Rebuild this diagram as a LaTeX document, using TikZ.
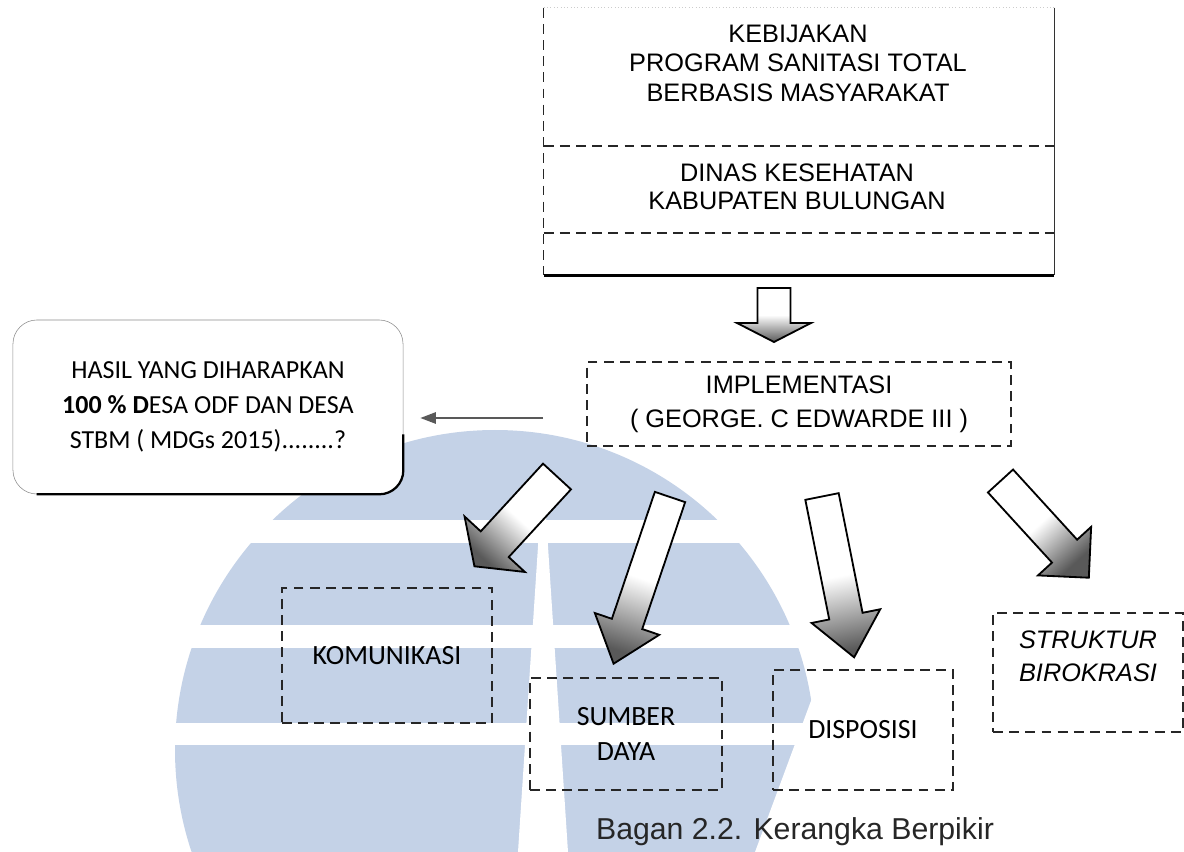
\documentclass[tikz,border=0pt]{standalone}
\usepackage{fontspec}
\setmainfont{Liberation Sans}
\newfontfamily\calibri{Carlito}
\usetikzlibrary{arrows.meta,positioning,calc}

\definecolor{logoblue}{RGB}{196,210,231}

\begin{document}
\begin{tikzpicture}[
x=0.025cm, y=-0.025cm,
dline/.style={
    draw=black!85,
    dash pattern=on 7pt off 4.5pt,
    line width=0.9pt
},
dbox/.style={
    dline,
    align=center
},
arialtext/.style={
    align=center,
    text=black,
    font=\fontsize{18}{#1}\selectfont
},
calibtext/.style={
    align=center,
    text=black,
    font=\calibri\fontsize{19.8}{#1}\selectfont
},
frame/.style={
    fill=white,
    inner sep=0pt,
    minimum width=12.75cm,
    minimum height=6.675cm
},
leftarrow/.style={
    -{Triangle[length=11pt,width=8pt]},
    draw=black!65,
    line width=1.3pt
},
pics/blockarrow/.style n args={5}{code={
    \shade[left color=white, right color=black!65, middle color=white,
        shading angle=#5, draw=black, line width=1.3pt, line join=miter]
        (0,-#2) -- (#1,-#2) -- (#1,-#3) -- ({#1+#4},0) -- (#1,#3) -- (#1,#2) -- (0,#2) -- cycle;
}}
]

\useasboundingbox (0,0) rectangle (1184,852);

\fill[logoblue] (495,750) circle[radius=320];
\fill[white] (0,520) rectangle (1184,543);
\fill[white] (0,625) rectangle (1184,648);
\fill[white] (0,723) rectangle (1184,745);
\fill[white] (543,470) -- (518,852) -- (568,852) -- cycle;
\fill[white] (815,690) -- (755,852) -- (1184,852) -- (1184,690) -- cycle;

\node[frame] (policy) at (799,141.5) {};

\node[arialtext=21] (kebijakan) at (798,63)
{KEBIJAKAN\\PROGRAM SANITASI TOTAL\\BERBASIS MASYARAKAT};

\node[arialtext=19.5] (dinas) at (797,187)
{DINAS KESEHATAN\\KABUPATEN BULUNGAN};

\node[dbox, arialtext=24, minimum width=10.6cm, minimum height=2.1cm] (impl) at (799,404)
{IMPLEMENTASI\\( GEORGE. C EDWARDE III )};

\node[draw=black!45, fill=white, rounded corners=0.6cm, minimum width=9.75cm, minimum height=4.35cm, calibtext=25, font=\calibri\fontsize{18.5}{25}\selectfont] (hasil) at (208,407)
{HASIL YANG DIHARAPKAN\\{\bfseries 100 \% D}ESA ODF DAN DESA\\STBM ( MDGs 2015)........?};

\node[dbox, calibtext=22, minimum width=5.25cm, minimum height=3.375cm] (kom) at (387,655.5)
{KOMUNIKASI};

\node[dbox, calibtext=25, minimum width=4.8cm, minimum height=2.8cm] (sumber) at (626,734)
{SUMBER\\DAYA};

\node[dbox, calibtext=22, minimum width=4.5cm, minimum height=3cm] (disp) at (863,730)
{DISPOSISI};

\node[dbox, arialtext=23, font=\fontsize{18}{23}\selectfont\itshape, minimum width=4.75cm, minimum height=2.975cm] (struk) at (1088,672.5)
{STRUKTUR\\BIROKRASI\\\mbox{}};

\node[font=\fontsize{21.5}{24}\selectfont, text=black!85] (caption) at (795,832)
{Bagan 2.2. Kerangka Berpikir};

\draw[dline] (policy.north west) -- (policy.south west);
\draw[dline] (policy.west |- 0,146) -- (policy.east |- 0,146);
\draw[dline] (policy.west |- 0,233) -- (policy.east |- 0,233);
\draw[black!80, line width=0.8pt] (policy.north east) -- (policy.south east);
\draw[black!20, dotted] (policy.north west) -- (policy.north east);
\draw[line width=1.8pt] (policy.south west) -- (policy.south east);

\draw[line width=1.6pt, rounded corners=0.6cm] ([xshift=0.6cm]hasil.south west) -- (hasil.south east) -- ([yshift=1.5cm]hasil.south east);

\coordinate (linestart) at (543,418);
\draw[leftarrow, shorten >=0.425cm] (linestart) -- (linestart -| hasil.east);

\pic[rotate=-90] at (774,288) {blockarrow={35}{16.5}{37}{19}{0}};
\pic[rotate=-132.6] at (557,476.5) {blockarrow={92}{19}{41}{30}{-42.6}};
\pic[rotate=-108.7] at (670,497) {blockarrow={134}{16}{34}{42}{-18.7}};
\pic[rotate=-78.7] at (822,496.5) {blockarrow={122}{17}{35}{42}{11.3}};
\pic[rotate=-47.6] at (1000.5,481) {blockarrow={95}{17}{36}{36}{42.4}};

\end{tikzpicture}
\end{document}
